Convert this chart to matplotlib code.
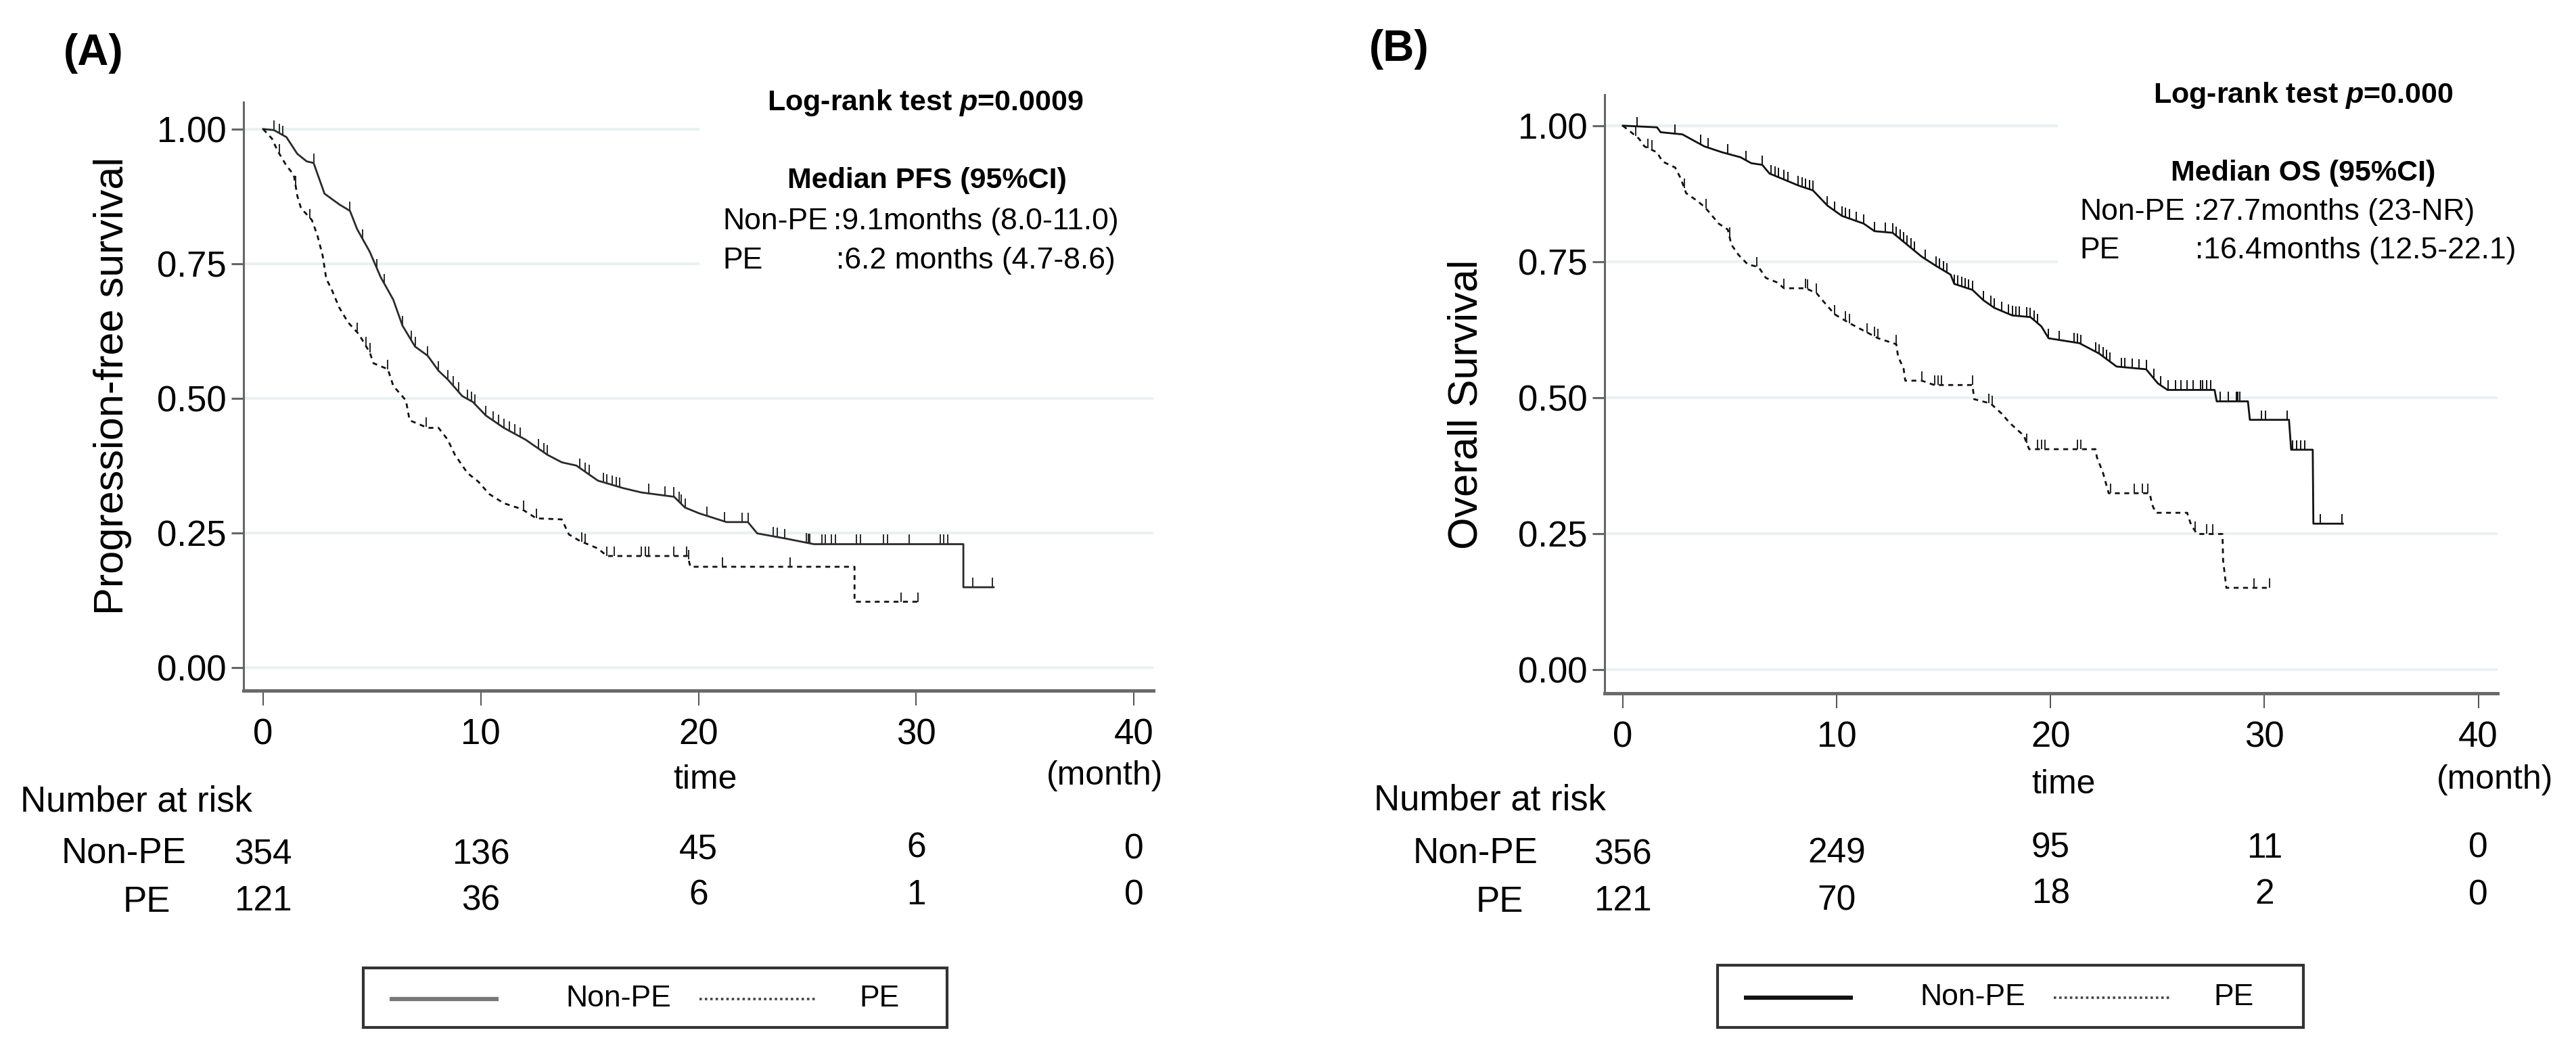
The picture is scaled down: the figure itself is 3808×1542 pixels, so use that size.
import numpy as np
import matplotlib
matplotlib.use("Agg")
import matplotlib.pyplot as plt
import matplotlib.transforms as mtransforms
from matplotlib.path import Path
from matplotlib.patches import Rectangle

plt.rcParams['font.family'] = ['Liberation Sans', 'DejaVu Sans']
plt.rcParams['mathtext.fontset'] = 'custom'
plt.rcParams['mathtext.it'] = 'Liberation Sans:italic:bold'
plt.rcParams['mathtext.rm'] = 'Liberation Sans:bold'

# ---- data (months, survival) ----
pfs_nonpe_t = [0, 0.5, 1.07, 1.57, 2.0, 2.32, 2.82, 3.5, 3.99, 4.32, 4.9, 5.4, 5.98, 6.4, 6.98,
               7.56, 8.06, 8.48, 9.15, 9.64, 10.23, 11.06, 12.06, 13.06, 13.72, 14.39, 15.38,
               16.55, 17.38, 18.88, 19.38, 20.05, 21.29, 22.27, 22.7, 24.06, 25.3, 32.17, 32.17, 33.56]
pfs_nonpe_s = [1.0, 0.998, 0.985, 0.954, 0.94, 0.937, 0.88, 0.86, 0.848, 0.814, 0.772, 0.725, 0.683,
               0.635, 0.596, 0.579, 0.551, 0.535, 0.504, 0.493, 0.468, 0.445, 0.423, 0.395, 0.381,
               0.375, 0.347, 0.333, 0.325, 0.317, 0.297, 0.286, 0.270, 0.270, 0.249, 0.239, 0.229,
               0.229, 0.149, 0.149]
pfs_nonpe_cens = [0.5, 0.74, 0.9, 2.32, 3.99, 4.57, 5.23, 5.57, 6.4, 6.81, 6.98, 7.56, 8.06, 8.48,
                  8.73, 8.98, 9.39, 9.56, 9.73, 10.23, 10.56, 10.81, 11.06, 11.31, 11.56, 11.81,
                  12.64, 12.89, 13.05, 14.55, 14.8, 14.97, 15.63, 15.8, 16.05, 16.22, 16.38, 17.71,
                  18.46, 18.88, 19.1, 19.21, 19.4, 20.4, 21.2, 22.0, 22.27, 23.43, 23.61, 23.97,
                  24.95, 25.04, 25.12, 25.66, 25.84, 26.11, 26.29, 27.27, 27.44, 28.51, 28.69,
                  29.67, 31.1, 31.28, 31.45, 32.61, 33.5]

pfs_pe_t = [0, 0.41, 0.66, 1.07, 1.41, 1.57, 1.74, 2.24, 2.49, 2.74, 2.9, 3.15, 3.49, 3.9, 4.4,
            4.9, 5.07, 5.73, 5.98, 6.56, 6.73, 7.56, 8.06, 8.48, 8.81, 9.39, 9.89, 10.39, 11.06,
            11.89, 12.55, 13.72, 14.05, 14.55, 15.38, 15.8, 19.5, 19.63, 27.17, 27.17, 30.17]
pfs_pe_s = [1.0, 0.982, 0.96, 0.932, 0.915, 0.876, 0.853, 0.831, 0.803, 0.764, 0.722, 0.702, 0.669,
            0.641, 0.619, 0.585, 0.565, 0.554, 0.523, 0.496, 0.459, 0.445, 0.445, 0.423, 0.395,
            0.361, 0.345, 0.322, 0.305, 0.294, 0.277, 0.275, 0.247, 0.235, 0.221, 0.207, 0.207,
            0.187, 0.187, 0.122, 0.122]
pfs_pe_cens = [0.74, 1.49, 2.16, 4.32, 4.73, 4.9, 5.73, 7.48, 11.97, 12.55, 14.63, 14.8, 15.8,
               16.13, 17.38, 17.55, 17.71, 18.88, 19.46, 19.54, 21.1, 24.2, 29.3, 30.1]

os_nonpe_t = [0, 1.6, 1.77, 2.79, 3.81, 4.65, 5.5, 6.01, 6.52, 6.86, 7.54, 8.21, 8.89, 9.57, 10.25,
              11.26, 11.77, 12.62, 13.3, 13.98, 14.65, 15.33, 15.5, 16.35, 16.86, 17.37, 18.21,
              19.06, 19.57, 19.91, 21.35, 22.27, 23.09, 24.47, 25.02, 25.47, 27.67, 27.77, 29.23,
              29.32, 31.15, 31.25, 32.26, 32.29, 33.67]
os_nonpe_s = [1.0, 0.997, 0.988, 0.984, 0.962, 0.951, 0.942, 0.931, 0.928, 0.912, 0.901, 0.89,
              0.881, 0.853, 0.834, 0.82, 0.806, 0.803, 0.781, 0.759, 0.742, 0.726, 0.709, 0.698,
              0.679, 0.665, 0.651, 0.648, 0.631, 0.609, 0.600, 0.581, 0.557, 0.552, 0.526, 0.514,
              0.514, 0.493, 0.493, 0.459, 0.459, 0.404, 0.404, 0.268, 0.268]
os_nonpe_cens = [0.67, 2.45, 3.64, 3.98, 4.91, 5.76, 6.52, 6.94, 7.11, 7.28, 7.54, 7.71, 8.21, 8.38,
                 8.55, 8.72, 8.89, 9.57, 9.91, 10.25, 10.42, 10.59, 10.93, 11.26, 11.77, 12.28,
                 12.62, 12.79, 12.96, 13.13, 13.3, 13.47, 13.64, 14.15, 14.65, 14.82, 14.99, 15.16,
                 15.5, 15.67, 15.84, 16.01, 16.18, 16.35, 16.86, 17.2, 17.37, 17.71, 18.04, 18.21,
                 18.38, 18.55, 18.89, 19.06, 19.23, 19.4, 19.91, 20.42, 21.09, 21.26, 21.43, 22.11,
                 22.28, 22.45, 22.62, 22.79, 23.3, 23.47, 23.81, 24.15, 24.48, 24.82, 25.16, 25.5,
                 25.84, 26.11, 26.39, 26.66, 27.03, 27.12, 27.3, 27.49, 27.94, 28.31, 28.68, 28.77,
                 28.86, 29.87, 30.05, 31.06, 31.33, 31.52, 31.7, 31.88, 32.62, 33.63]

os_pe_t = [0, 0.42, 0.76, 1.01, 1.6, 1.86, 2.45, 2.71, 2.96, 3.47, 3.81, 4.06, 4.48, 4.91, 5.08,
           5.42, 5.84, 6.35, 6.69, 7.2, 7.54, 8.55, 9.06, 9.4, 9.91, 10.59, 11.26, 11.94, 12.79,
           12.87, 13.13, 13.21, 13.98, 14.57, 16.35, 16.43, 17.2, 17.7, 18.1, 18.75, 19.0, 22.1,
           22.17, 22.45, 22.72, 24.64, 24.74, 24.92, 26.39, 26.57, 26.85, 28.04, 28.07, 28.22, 30.24]
os_pe_s = [1.0, 0.987, 0.976, 0.962, 0.951, 0.934, 0.923, 0.903, 0.876, 0.862, 0.851, 0.84, 0.82,
           0.809, 0.781, 0.762, 0.745, 0.74, 0.72, 0.712, 0.701, 0.701, 0.692, 0.676, 0.653, 0.637,
           0.623, 0.609, 0.598, 0.576, 0.553, 0.531, 0.531, 0.523, 0.523, 0.497, 0.489, 0.471,
           0.453, 0.43, 0.405, 0.405, 0.39, 0.362, 0.324, 0.324, 0.304, 0.288, 0.288, 0.266,
           0.249, 0.249, 0.2, 0.15, 0.15]
os_pe_cens = [0.59, 1.18, 1.35, 2.87, 3.89, 4.99, 6.26, 7.54, 8.55, 8.64, 9.06, 9.91, 10.42, 10.59,
              11.43, 11.77, 11.94, 12.79, 13.98, 14.57, 14.74, 14.91, 16.35, 17.11, 17.28, 18.89,
              19.4, 19.57, 19.74, 21.26, 21.43, 22.81, 23.91, 24.28, 24.55, 26.75, 27.3, 27.58,
              29.5, 30.24]

risk_times = [0, 10, 20, 30, 40]
risk_a_nonpe = [354, 136, 45, 6, 0]
risk_a_pe = [121, 36, 6, 1, 0]
risk_b_nonpe = [356, 249, 95, 11, 0]
risk_b_pe = [121, 70, 18, 2, 0]

y_ticks = [0, 0.25, 0.5, 0.75, 1.0]
y_ticklabels = ['0.00', '0.25', '0.50', '0.75', '1.00']
x_ticks = [0, 10, 20, 30, 40]

W, H = 3808, 1542
fig = plt.figure(figsize=(W / 100, H / 100), dpi=100)
fig.patch.set_facecolor('white')

tick_path = Path([(0, 0), (0, 1)], [Path.MOVETO, Path.LINETO])


def make_panel(box, ylim, xlim, ylabel, label_x, label_y, curves, solid_col):
    left, top, right, bottom = box
    ax = fig.add_axes([left / W, 1 - bottom / H, (right - left) / W, (bottom - top) / H])
    ax.set_xlim(*xlim)
    ax.set_ylim(*ylim)
    ax.set_yticks(y_ticks)
    ax.set_yticklabels(y_ticklabels)
    ax.set_xticks(x_ticks)
    ax.yaxis.grid(True, color='#e9f1f2', lw=3)
    ax.set_axisbelow(True)
    for s in ['top', 'right']:
        ax.spines[s].set_visible(False)
    ax.spines['left'].set_color('#666666')
    ax.spines['left'].set_linewidth(2.2)
    ax.spines['bottom'].set_color('#6a6a6a')
    ax.spines['bottom'].set_linewidth(3.6)
    ax.tick_params(axis='y', length=13, width=2.2, color='#666666', pad=5, labelsize=38)
    ax.tick_params(axis='x', length=16, width=1.2, color='#333333', pad=13, labelsize=38)
    ax.set_ylabel(ylabel, fontsize=44)
    ax.yaxis.set_label_coords(label_x, label_y)

    (t1, s1, c1), (t2, s2, c2) = curves
    ax.plot(t1, s1, color=solid_col, lw=2.0, zorder=3)
    ax.plot(c1, np.interp(c1, t1, s1), ls='none', marker=tick_path, ms=20, mew=1.4,
            color=solid_col, zorder=3)
    ax.plot(t2, s2, color='#111111', lw=2.0, ls=(0, (2.6, 2.4)), zorder=3)
    ax.plot(c2, np.interp(c2, t2, s2), ls='none', marker=tick_path, ms=20, mew=1.4,
            color='#222222', zorder=3)
    return ax


axA = make_panel((360, 151, 1705, 1021), (-0.043, 1.05), (-0.9, 40.9),
                 'Progression-free survival', -0.1227, 0.518,
                 [(pfs_nonpe_t, pfs_nonpe_s, pfs_nonpe_cens), (pfs_pe_t, pfs_pe_s, pfs_pe_cens)],
                 '#2a2a2a')
axB = make_panel((2372, 140, 3692, 1025), (-0.044, 1.057), (-0.85, 40.9),
                 'Overall Survival', -0.1326, 0.4825,
                 [(os_nonpe_t, os_nonpe_s, os_nonpe_cens), (os_pe_t, os_pe_s, os_pe_cens)],
                 '#111111')

# overlay in pixel coordinates for texts and legend boxes
ov = fig.add_axes([0, 0, 1, 1], zorder=10)
ov.set_xlim(0, W)
ov.set_ylim(H, 0)
ov.axis('off')
ov.patch.set_alpha(0)

ov.text(138, 96, '(A)', fontsize=46, fontweight='bold', ha='center', va='baseline')
ov.text(2068, 90, '(B)', fontsize=46, fontweight='bold', ha='center', va='baseline')

# white area behind the annotations (covers gridlines)
ov.add_patch(Rectangle((1034, 172), 680, 240, fc='white', ec='none', zorder=1))
ov.add_patch(Rectangle((3042, 165), 660, 240, fc='white', ec='none', zorder=1))

ov.text(1368, 163, 'Log-rank test $p$=0.0009', fontsize=31, fontweight='bold', ha='center',
        va='baseline', zorder=2)
ov.text(1370, 278, 'Median PFS (95%CI)', fontsize=31, fontweight='bold', ha='center',
        va='baseline', zorder=2)
ov.text(1068, 339, 'Non-PE', fontsize=32, va='baseline', zorder=2)
ov.text(1232, 339, ':9.1months (8.0-11.0)', fontsize=32, va='baseline', zorder=2)
ov.text(1068, 397, 'PE', fontsize=32, va='baseline', zorder=2)
ov.text(1236, 397, ':6.2 months (4.7-8.6)', fontsize=32, va='baseline', zorder=2)

ov.text(3405, 152, 'Log-rank test $p$=0.000', fontsize=31, fontweight='bold', ha='center',
        va='baseline', zorder=2)
ov.text(3405, 267, 'Median OS (95%CI)', fontsize=31, fontweight='bold', ha='center',
        va='baseline', zorder=2)
ov.text(3074, 325, 'Non-PE', fontsize=32, va='baseline', zorder=2)
ov.text(3243, 325, ':27.7months (23-NR)', fontsize=32, va='baseline', zorder=2)
ov.text(3074, 382, 'PE', fontsize=32, va='baseline', zorder=2)
ov.text(3245, 382, ':16.4months (12.5-22.1)', fontsize=32, va='baseline', zorder=2)


def risk_table(ax, x_num, x_nonpe, x_pe, y_title, rows, time_pos, month_pos):
    tr = mtransforms.blended_transform_factory(ax.transData, ov.transData)
    ov.text(time_pos[0], time_pos[1], 'time', fontsize=36, ha='center', va='baseline')
    ov.text(month_pos[0], month_pos[1], '(month)', fontsize=36, ha='center', va='baseline')
    ov.text(x_num, y_title, 'Number at risk', fontsize=38, va='baseline')
    (vals1, ys1, yl1), (vals2, ys2, yl2) = rows
    ov.text(x_nonpe, yl1, 'Non-PE', fontsize=38, va='baseline')
    ov.text(x_pe, yl2, 'PE', fontsize=38, va='baseline')
    for t, v, y in zip(risk_times, vals1, ys1):
        ov.text(t, y, str(v), fontsize=37, ha='center', va='baseline', transform=tr)
    for t, v, y in zip(risk_times, vals2, ys2):
        ov.text(t, y, str(v), fontsize=37, ha='center', va='baseline', transform=tr)


risk_table(axA, 30, 91, 182, 1200,
           [(risk_a_nonpe, [1277, 1277, 1270, 1268, 1270], 1275),
            (risk_a_pe, [1346, 1346, 1337, 1337, 1338], 1348)],
           (1042, 1166), (1633, 1160))
risk_table(axB, 2031, 2089, 2182, 1197,
           [(risk_b_nonpe, [1277, 1275, 1268, 1268, 1268], 1275),
            (risk_b_pe, [1346, 1346, 1336, 1336, 1338], 1348)],
           (3050, 1173), (3688, 1166))

# legend boxes
for (x0, y0, w, h), solid_c, lx in [((537, 1431, 863, 88), '#777777', 0),
                                    ((2539, 1427, 866, 92), '#111111', 2002)]:
    ov.add_patch(Rectangle((x0, y0), w, h, fc='white', ec='#333333', lw=3))
    yc = y0 + h / 2 + 2
    ov.plot([576 + lx, 737 + lx], [yc, yc], color=solid_c, lw=4.5, solid_capstyle='butt')
    ov.text(836 + lx, yc, 'Non-PE', fontsize=32, va='center')
    ov.plot([1034 + lx, 1206 + lx], [yc, yc], color='#444444', lw=2.6, ls=(0, (1, 1.2)))
    ov.text(1270 + lx, yc, 'PE', fontsize=32, va='center')

fig.savefig('out.png', dpi=100, facecolor='white')
